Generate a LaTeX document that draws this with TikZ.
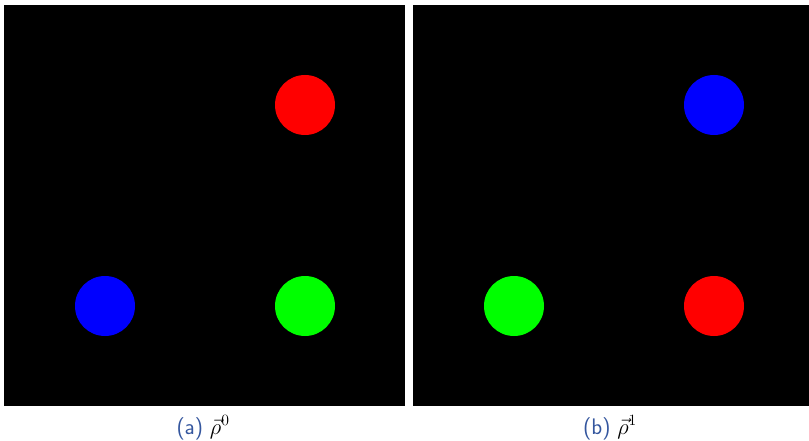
\RequirePackage{fix-cm}
\documentclass[tikz,border=0pt]{standalone}
\usepackage{amsmath, amssymb}
\usepackage{tikz}
\usetikzlibrary{positioning}
\definecolor{CapBlue}{RGB}{52, 86, 158}
\definecolor{DotRed}{RGB}{255, 0, 0}
\definecolor{DotGreen}{RGB}{0, 255, 0}
\definecolor{DotBlue}{RGB}{0, 0, 255}

\tikzset{
  dot/.style={circle, inner sep=0pt, minimum size=60pt},
  caplabel/.style={anchor=base, inner sep=0pt, font=\fontsize{22.5}{26}\selectfont}
}

\begin{document}
\begin{tikzpicture}[x=1pt, y=-1pt]
    \useasboundingbox (0,0) rectangle (809,441);

    % Frame a
    \begin{scope}
      \fill[black] (4,5) rectangle (405,406);
      \node[dot, fill=DotRed] (ra) at (305,105) {};
      \node[dot, fill=DotBlue] (ba) at (105,306) {};
      \node[dot, fill=DotGreen] (ga) at (305,306) {};
      \node[caplabel] (capa) at (203,434) {\textcolor{CapBlue}{\sffamily (a)} $\vec{\rho}^{0}$};
    \end{scope}

    % Frame b
    \begin{scope}
      \fill[black] (413,5) rectangle (809,406);
      \node[dot, fill=DotBlue] (bb) at (714,105) {};
      \node[dot, fill=DotGreen] (gb) at (514,306) {};
      \node[dot, fill=DotRed] (rb) at (714,306) {};
      \node[caplabel] (capb) at (610,434) {\textcolor{CapBlue}{\sffamily (b)} $\vec{\rho}^{1}$};
    \end{scope}
  \end{tikzpicture}
\end{document}
